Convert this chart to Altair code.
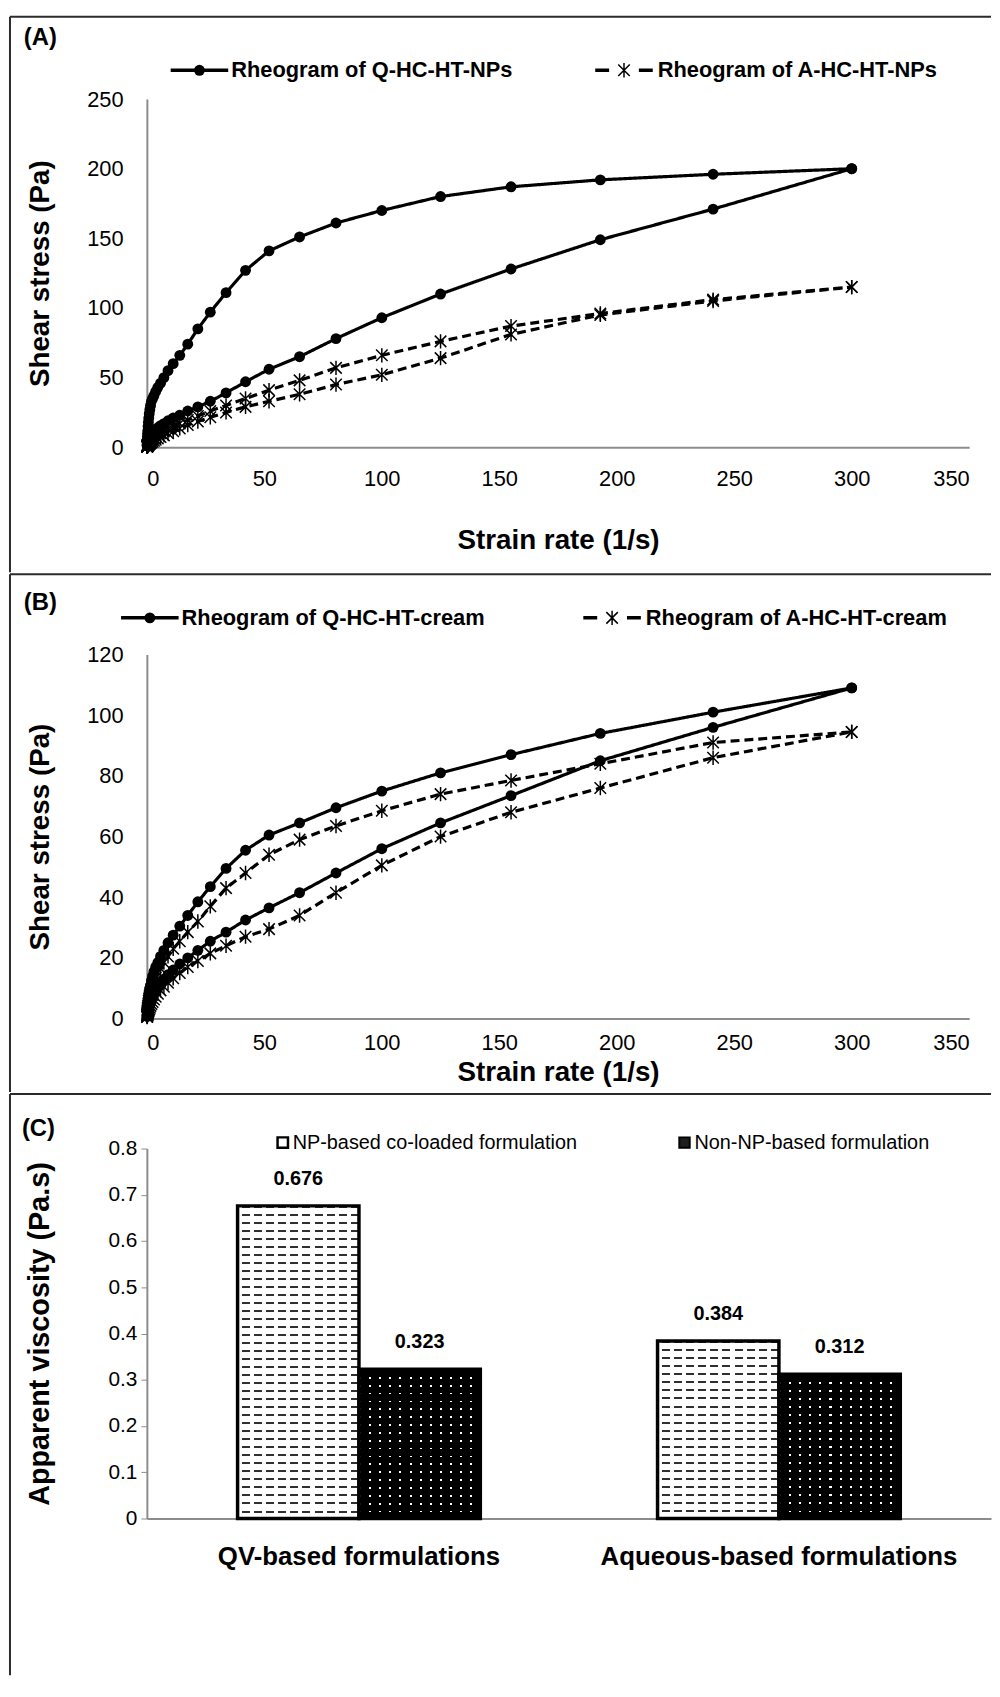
import altair as alt
import pandas as pd

FONT = "'Liberation Sans', Arial, sans-serif"

# shear rate sweep (1/s), ascending
RATE = [0.11, 0.14, 0.17, 0.22, 0.27, 0.34, 0.42, 0.52, 0.65, 0.81, 1.01, 1.25, 1.56, 1.94,
        2.42, 3.01, 3.75, 4.67, 5.81, 7.24, 9.0, 11.2, 14.0, 17.4, 21.7, 27.0, 33.7, 42.0,
        52.0, 65.0, 80.5, 100.0, 125.0, 155.0, 193.0, 241.0, 300.0]

# Panel A: nanoparticles
Q_NP_UP = [1.0, 1.3, 1.7, 2.1, 2.6, 3.2, 3.8, 4.5, 5.2, 6, 7, 8, 9, 10, 11, 12, 13, 14, 15.5, 17,
           19, 21, 23, 26, 29, 33, 39, 47, 56, 65, 78, 93, 110, 128, 149, 171, 200]
Q_NP_DOWN = [3, 4, 5, 6, 8, 10, 12, 15, 18, 21, 24, 27, 30, 33, 35, 37, 40, 43, 46, 50,
             55, 60, 66, 74, 85, 97, 111, 127, 141, 151, 161, 170, 180, 187, 192, 196, 200]
A_NP_UP = [0.3, 0.4, 0.5, 0.6, 0.8, 0.9, 1.1, 1.3, 1.5, 1.8, 2.1, 2.5, 2.9, 3.4, 4.0, 4.6, 5.4,
           6.3, 7.3, 8.5, 10, 11.5, 13.5, 16, 18.5, 21.5, 25, 29, 33, 38, 45, 52, 64, 81, 95, 105, 115]
A_NP_DOWN = [0.6, 0.8, 1.0, 1.2, 1.4, 1.7, 2.0, 2.3, 2.7, 3.1, 3.6, 4.2, 4.8, 5.5, 6.2, 7, 8, 9,
             10, 11.5, 13, 15, 17, 19.5, 22.5, 26, 30, 35, 41, 48, 57, 66, 76, 87, 96, 106, 115]

# Panel B: creams
Q_CR_UP = [0.7, 0.9, 1.1, 1.4, 1.7, 2.0, 2.4, 2.8, 3.3, 3.8, 4.4, 5.0, 5.7, 6.5, 7.3, 8.2, 9.2,
           10.3, 11.5, 13, 14.5, 16, 18, 20, 22.5, 25.5, 28.5, 32.5, 36.5, 41.5, 48, 56, 64.5,
           73.5, 85, 96, 109]
Q_CR_DOWN = [1.2, 1.7, 2.2, 2.8, 3.5, 4.2, 5, 6, 7, 8, 9, 10, 11, 12.5, 14, 15.5, 17, 18.5,
             20.5, 22.5, 25, 27.5, 30.5, 34, 38.5, 43.5, 49.5, 55.5, 60.5, 64.5, 69.5, 75, 81,
             87, 94, 101, 109]
A_CR_UP = [0.5, 0.6, 0.8, 1.0, 1.2, 1.4, 1.7, 2.0, 2.3, 2.7, 3.1, 3.6, 4.2, 4.8, 5.5, 6.3, 7.2,
           8.2, 9.3, 10.5, 11.8, 13.3, 15, 17, 19, 21.5, 24, 27, 29.5, 34, 41.5, 50.5, 60, 68,
           76, 86, 94.5]
A_CR_DOWN = [1.1, 1.4, 1.8, 2.2, 2.6, 3.1, 3.7, 4.3, 5, 5.8, 6.6, 7.5, 8.5, 9.6, 10.8, 12, 13.5,
             15, 16.5, 18.5, 20.5, 23, 25.5, 28.5, 32, 37, 43, 48, 54, 59, 63.5, 68.5, 74, 78.5,
             84, 91, 94.5]

X_TICKS = [0, 50, 100, 150, 200, 250, 300, 350]
YA_TICKS = [0, 50, 100, 150, 200, 250]
YB_TICKS = [0, 20, 40, 60, 80, 100, 120]

NAMES_A = ["Rheogram of Q-HC-HT-NPs", "Rheogram of A-HC-HT-NPs"]
NAMES_B = ["Rheogram of Q-HC-HT-cream", "Rheogram of A-HC-HT-cream"]

# Panel C
CATS = ["QV-based formulations", "Aqueous-based formulations"]
SERIES_C = ["NP-based co-loaded formulation", "Non-NP-based formulation"]
NP_VISC = [0.676, 0.384]
NON_NP_VISC = [0.323, 0.312]
YC_TICKS = [0, 0.1, 0.2, 0.3, 0.4, 0.5, 0.6, 0.7, 0.8]

ASTERISK = "M0,-1L0,1M-0.8,-0.8L0.8,0.8M-0.8,0.8L0.8,-0.8"
W = 829
FRAME_L, FRAME_R = -138, 851
FRAME_C = "#2b2b2b"
DARK = "#1e1e1e"
HC = 373
WC = 851
PAD_IN, PAD_OUT = 0.422, 0.216


def loop_frame(name, up, down):
    xs = RATE + RATE[::-1]
    ys = up + down[::-1]
    return pd.DataFrame({"rate": xs, "stress": ys, "series": name, "seq": list(range(len(xs)))})


def one():
    return pd.DataFrame({"k": [0]})


def frame_lines(top, bottom):
    o = alt.Chart(one())
    left = o.mark_rule(color=FRAME_C, strokeWidth=2).encode(
        x=alt.value(FRAME_L), y=alt.value(top), y2=alt.value(bottom))
    upper = o.mark_rule(color=FRAME_C, strokeWidth=2).encode(
        x=alt.value(FRAME_L), x2=alt.value(FRAME_R), y=alt.value(top))
    return [left, upper]


def rheo_panel(names, q_up, q_down, a_up, a_down, ymax, yticks, height, letter,
               frame_top, frame_bottom, letter_y, legend_y, leg1_x, leg2_x,
               xlab_pad, xtitle_pad):
    df = pd.concat([loop_frame(names[0], q_up, q_down), loop_frame(names[1], a_up, a_down)])
    xenc = alt.X("rate:Q", scale=alt.Scale(domain=[0, 350], nice=False),
                 axis=alt.Axis(values=X_TICKS, grid=False, ticks=False, domainColor="#8c8c8c",
                               domainWidth=2, labelFont=FONT, labelFontSize=22, labelColor="#000",
                               labelPadding=xlab_pad, title="Strain rate (1/s)", titleFont=FONT,
                               titleFontSize=28, titleFontWeight="bold", titleColor="#000",
                               titlePadding=xtitle_pad))
    yenc = alt.Y("stress:Q", scale=alt.Scale(domain=[0, ymax], nice=False),
                 axis=alt.Axis(values=yticks, grid=False, ticks=False, domainColor="#8c8c8c",
                               domainWidth=2, labelFont=FONT, labelFontSize=22, labelColor="#000",
                               labelPadding=24, title="Shear stress (Pa)", titleFont=FONT,
                               titleFontSize=28, titleFontWeight="bold", titleColor="#000",
                               titlePadding=32))
    base = alt.Chart(df)
    lines = base.mark_line(color="black", strokeWidth=3.2).encode(
        x=xenc, y=yenc, detail="series:N", order="seq:Q",
        strokeDash=alt.StrokeDash("series:N", scale=alt.Scale(domain=names, range=[[1, 0], [9, 5]]),
                                  legend=None))
    pts_q = base.transform_filter(alt.datum.series == names[0]).mark_point(
        shape="circle", filled=True, size=120, color="black", opacity=1).encode(x="rate:Q", y="stress:Q")
    pts_a = base.transform_filter(alt.datum.series == names[1]).mark_point(
        shape=ASTERISK, filled=False, size=210, color="black", strokeWidth=1.5, opacity=1).encode(
        x="rate:Q", y="stress:Q")

    o = alt.Chart(one())
    lab = o.mark_text(align="left", baseline="middle", font=FONT, fontSize=24, fontWeight="bold",
                      color="black").encode(x=alt.value(-124), y=alt.value(letter_y), text=alt.value(letter))
    l1 = o.mark_rule(color="black", strokeWidth=3.5).encode(
        x=alt.value(leg1_x), x2=alt.value(leg1_x + 58), y=alt.value(legend_y))
    l1p = o.mark_point(shape="circle", filled=True, size=120, color="black", opacity=1).encode(
        x=alt.value(leg1_x + 29), y=alt.value(legend_y))
    l1t = o.mark_text(align="left", baseline="middle", font=FONT, fontSize=22, fontWeight="bold",
                      color="black").encode(
        x=alt.value(leg1_x + 61), y=alt.value(legend_y), text=alt.value(names[0]))
    l2 = o.mark_rule(color="black", strokeWidth=3.5, strokeDash=[14, 30]).encode(
        x=alt.value(leg2_x), x2=alt.value(leg2_x + 58), y=alt.value(legend_y))
    l2p = o.mark_point(shape=ASTERISK, filled=False, size=210, color="black", strokeWidth=1.5,
                       opacity=1).encode(x=alt.value(leg2_x + 29), y=alt.value(legend_y))
    l2t = o.mark_text(align="left", baseline="middle", font=FONT, fontSize=22, fontWeight="bold",
                      color="black").encode(
        x=alt.value(leg2_x + 63), y=alt.value(legend_y), text=alt.value(names[1]))
    layers = frame_lines(frame_top, frame_bottom) + [lines, pts_q, pts_a, lab, l1, l1p, l1t, l2, l2p, l2t]
    return alt.layer(*layers).properties(width=W, height=height)


panel_a = rheo_panel(NAMES_A, Q_NP_UP, Q_NP_DOWN, A_NP_UP, A_NP_DOWN, 250, YA_TICKS, 351, "(A)",
                     -83, 477, -62, -29, 24, 452, 22, 37)
panel_b = rheo_panel(NAMES_B, Q_CR_UP, Q_CR_DOWN, A_CR_UP, A_CR_DOWN, 120, YB_TICKS, 367, "(B)",
                     -81, 441, -52, -37, -26, 440, 14, 5)


# ---- Panel C: hatched bars (Excel-like fill patterns via stripe gradients) ----
def stripes(n, on_frac, on_color, off_color, vertical):
    stops = []
    for k in range(n):
        a, b, c = k / n, (k + on_frac) / n, (k + 1) / n
        stops += [alt.GradientStop(offset=a, color=on_color), alt.GradientStop(offset=b, color=on_color),
                  alt.GradientStop(offset=b, color=off_color), alt.GradientStop(offset=c, color=off_color)]
    if vertical:
        return alt.Gradient(gradient="linear", stops=stops, x1=0, y1=0, x2=0, y2=1)
    return alt.Gradient(gradient="linear", stops=stops, x1=0, y1=0, x2=1, y2=0)


dfc = pd.DataFrame({
    "category": CATS * 2,
    "series": [SERIES_C[0]] * 2 + [SERIES_C[1]] * 2,
    "value": NP_VISC + NON_NP_VISC,
})
bc = alt.Chart(dfc)
step = WC / (2 - PAD_IN + 2 * PAD_OUT)
bar_w = step * (1 - PAD_IN) / 2

xc = alt.X("category:N", sort=CATS,
           scale=alt.Scale(domain=CATS, paddingInner=PAD_IN, paddingOuter=PAD_OUT),
           axis=alt.Axis(labelAngle=0, ticks=False, domainColor="#8c8c8c", domainWidth=2,
                         labelFont=FONT, labelFontSize=26, labelFontWeight="bold", labelLimit=600,
                         labelColor="#000", labelPadding=25, title=None))
xo = alt.XOffset("series:N", sort=SERIES_C,
                 scale=alt.Scale(domain=SERIES_C, paddingInner=0, paddingOuter=0))
yc = alt.Y("value:Q", scale=alt.Scale(domain=[0, 0.8], nice=False),
           axis=alt.Axis(values=YC_TICKS, format="~g", grid=False, ticks=True, tickSize=6,
                         tickColor="#8c8c8c", domainColor="#8c8c8c", domainWidth=2,
                         labelFont=FONT, labelFontSize=21, labelColor="#000", labelPadding=4,
                         title="Apparent viscosity (Pa.s)", titleFont=FONT, titleFontSize=29,
                         titleFontWeight="bold", titleColor="#000", titlePadding=54))

bar_layers = []
for cat, v_np, v_non in zip(CATS, NP_VISC, NON_NP_VISC):
    for ser, v in ((SERIES_C[0], v_np), (SERIES_C[1], v_non)):
        h = v / 0.8 * HC
        rows = max(1, round(h / 8))
        sel = bc.transform_filter((alt.datum.category == cat) & (alt.datum.series == ser))
        if ser == SERIES_C[0]:
            under = stripes(rows, 0.25, "#303030", "#ffffff", True)
            over = stripes(max(1, round(bar_w / 12)), 0.34, "#ffffff", "rgba(255,255,255,0)", False)
        else:
            under = stripes(rows, 0.22, "#ffffff", "#000000", True)
            over = stripes(max(1, round(bar_w / 10)), 0.2, "rgba(0,0,0,0)", "#000000", False)
        bar_layers.append(sel.mark_bar(fill=under, strokeWidth=0).encode(x=xc, xOffset=xo, y=yc))
        bar_layers.append(sel.mark_bar(fill=over, strokeWidth=0).encode(x=xc, xOffset=xo, y=yc))

borders = bc.mark_bar(fill="white", fillOpacity=0, stroke="black", strokeWidth=3.5).encode(
    x=xc, xOffset=xo, y=yc)
vals = bc.mark_text(baseline="middle", dy=-27, font=FONT, fontSize=20, fontWeight="bold",
                    color="black").encode(x=xc, xOffset=xo, y=yc,
                                          text=alt.Text("value:Q", format=".3f"))

oc = alt.Chart(one())
c_lab = oc.mark_text(align="left", baseline="middle", font=FONT, fontSize=24, fontWeight="bold",
                     color="black").encode(x=alt.value(-126), y=alt.value(-20), text=alt.value("(C)"))
LEG_Y = -6
sq1 = oc.mark_point(shape="square", filled=True, fill="#ffffff", stroke="black", strokeWidth=2.5,
                    size=110, opacity=1).encode(x=alt.value(137), y=alt.value(LEG_Y))
t1 = oc.mark_text(align="left", baseline="middle", font=FONT, fontSize=20, color="black").encode(
    x=alt.value(147), y=alt.value(LEG_Y), text=alt.value(SERIES_C[0]))
sq2 = oc.mark_point(shape="square", filled=True, fill=DARK, stroke="black", strokeWidth=2,
                    size=110, opacity=1).encode(x=alt.value(542), y=alt.value(LEG_Y))
t2 = oc.mark_text(align="left", baseline="middle", font=FONT, fontSize=20, color="black").encode(
    x=alt.value(552), y=alt.value(LEG_Y), text=alt.value(SERIES_C[1]))
panel_c = alt.layer(*frame_lines(-55, 531), *bar_layers, borders, vals, c_lab, sq1, t1, sq2, t2
                    ).properties(width=WC, height=HC)

chart = alt.vconcat(panel_a, panel_b, panel_c, spacing=0).properties(
    padding={"left": 1, "top": 1, "right": 0, "bottom": 0}
).configure_view(stroke=None).configure_concat(spacing=0)

chart.save("out.html", embed_options={"renderer": "svg", "actions": False})
